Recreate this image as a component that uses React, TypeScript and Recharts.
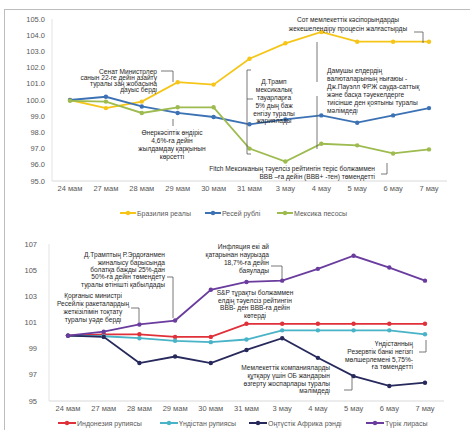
import React from 'react';
import { LineChart, Line, XAxis, YAxis } from 'recharts';

// categories
const dates = ['24 мам', '27 мам', '28 мам', '29 мам', '30 мам', '31 мам', '3 мау', '4 мау', '5 мау', '6 мау', '7 мау'];

// top chart series
const brazilReal = [100.0, 99.5, 99.9, 101.1, 100.95, 102.55, 103.5, 104.2, 103.6, 103.6, 103.6];
const russianRuble = [100.0, 100.2, 99.6, 99.2, 98.95, 98.5, 98.8, 99.05, 98.6, 99.05, 99.5];
const mexicanPeso = [99.95, 99.9, 99.2, 99.55, 99.55, 97.0, 96.2, 97.3, 97.2, 96.7, 96.95];

// bottom chart series
const indonesianRupiah = [100.0, 100.1, 100.1, 99.9, 99.9, 100.9, 100.9, 100.9, 100.9, 100.9, 100.9];
const indianRupee = [100.0, 99.95, 99.8, 99.6, 99.5, 99.7, 100.4, 100.4, 100.4, 100.4, 100.1];
const southAfricanRand = [100.0, 99.9, 97.9, 98.4, 97.9, 98.9, 99.8, 98.3, 96.9, 96.15, 96.4];
const turkishLira = [100.0, 100.3, 100.85, 101.15, 103.5, 104.1, 104.2, 105.1, 106.1, 105.2, 104.2];

// tick labels
const topTicks = [95, 96, 97, 98, 99, 100, 101, 102, 103, 104, 105];
const bottomTicks = [95, 97, 99, 101, 103, 105, 107];

const topSeries = [
  { key: 'brl', name: 'Бразилия реалы', color: '#F5C518', values: brazilReal },
  { key: 'rub', name: 'Ресей рублі', color: '#3C72B4', values: russianRuble },
  { key: 'mxn', name: 'Мексика песосы', color: '#9DBB4F', values: mexicanPeso },
];

const bottomSeries = [
  { key: 'idr', name: 'Индонезия рупиясы', color: '#E0303A', values: indonesianRupiah },
  { key: 'inr', name: 'Үндістан рупиясы', color: '#49B3C8', values: indianRupee },
  { key: 'zar', name: 'Оңтүстік Африка рэнді', color: '#27295C', values: southAfricanRand },
  { key: 'try', name: 'Түрік лирасы', color: '#6A3C9E', values: turkishLira },
];

const buildRows = (series: typeof topSeries) =>
  dates.map((d, i) => {
    const row: Record<string, string | number> = { date: d };
    series.forEach((s) => (row[s.key] = s.values[i]));
    return row;
  });

const topData = buildRows(topSeries);
const bottomData = buildRows(bottomSeries);

const FONT = '"Liberation Sans", Arial, sans-serif';
const tickStyle = { fontSize: 7.5, fill: '#595959', fontFamily: FONT };

function Note({ x, y, lines, anchor = 'middle', step = 7 }: { x: number; y: number; lines: string[]; anchor?: 'start' | 'middle' | 'end'; step?: number }) {
  return (
    <text textAnchor={anchor} fontSize={6.6} fill="#1f1f1f" fontFamily={FONT}>
      {lines.map((l, i) => (
        <tspan key={i} x={x} y={y + i * step + 2.3}>
          {l}
        </tspan>
      ))}
    </text>
  );
}

function LegendItem({ x, y, color, label, w = 16 }: { x: number; y: number; color: string; label: string; w?: number }) {
  return (
    <g>
      <line x1={x} y1={y} x2={x + w} y2={y} stroke={color} strokeWidth={2} />
      <circle cx={x + w / 2} cy={y} r={2.2} fill={color} />
      <text x={x + w + 1} y={y + 2.5} fontSize={7} fill="#595959" fontFamily={FONT}>
        {label}
      </text>
    </g>
  );
}

const conn = { fill: 'none', stroke: '#555', strokeWidth: 0.8 };

export default function App() {
  return (
    <div style={{ position: 'absolute', left: 0, top: 0, width: 470, height: 430, background: '#fff', fontFamily: FONT }}>
      <div style={{ position: 'absolute', left: 4, top: 9, width: 466, height: 421, borderLeft: '1px solid #bdbdbd', borderTop: '1px solid #bdbdbd' }} />

      <div style={{ position: 'absolute', left: 0, top: 0 }}>
        <LineChart width={470} height={220} data={topData} margin={{ top: 19, right: 23, bottom: 19, left: 0 }}>
          <XAxis dataKey="date" height={20} interval={0} tickLine={false} tickSize={0} tickMargin={5} padding={{ left: 18, right: 18 }} axisLine={{ stroke: '#d9d9d9' }} tick={tickStyle} />
          <YAxis width={52} domain={[95, 105]} ticks={topTicks} interval={0} tickFormatter={(v: number) => v.toFixed(1)} tickLine={false} tickSize={0} tickMargin={7} axisLine={{ stroke: '#e3e3e3' }} tick={tickStyle} />
          {topSeries.map((s) => (
            <Line key={s.key} dataKey={s.key} name={s.name} type="linear" stroke={s.color} strokeWidth={1.8} dot={{ r: 2.2, fill: s.color, stroke: s.color, strokeWidth: 0 }} activeDot={false} isAnimationActive={false} />
          ))}
        </LineChart>
      </div>

      <div style={{ position: 'absolute', left: 0, top: 220 }}>
        <LineChart width={470} height={210} data={bottomData} margin={{ top: 24, right: 26, bottom: 9, left: 0 }}>
          <XAxis dataKey="date" height={20} interval={0} tickLine={false} tickSize={0} tickMargin={5} padding={{ left: 19, right: 19 }} axisLine={{ stroke: '#d9d9d9' }} tick={tickStyle} />
          <YAxis width={49} domain={[95, 107]} ticks={bottomTicks} interval={0} tickLine={false} tickSize={0} tickMargin={12} axisLine={{ stroke: '#e3e3e3' }} tick={tickStyle} />
          {bottomSeries.map((s) => (
            <Line key={s.key} dataKey={s.key} name={s.name} type="linear" stroke={s.color} strokeWidth={1.8} dot={{ r: 2.2, fill: s.color, stroke: s.color, strokeWidth: 0 }} activeDot={false} isAnimationActive={false} />
          ))}
        </LineChart>
      </div>

      <svg width={470} height={430} style={{ position: 'absolute', left: 0, top: 0, pointerEvents: 'none' }}>
        {/* top chart notes */}
        <Note x={157} y={72} anchor="end" step={6} lines={['Сенат Министрлер', 'санын 22-ге дейін азайту', 'туралы заң жобасына', 'дауыс берді']} />
        <path d="M161,71 H173 V82" {...conn} />

        <Note x={172} y={133} step={7.8} lines={['Өнеркәсіптік өндіріс', '4,6%-ға дейін', 'жылдамдау қарқынын', 'көрсетті']} />
        <path d="M173,119 V126" {...conn} />

        <Note x={375} y={169} anchor="end" step={8} lines={['Fitch Мексиканың тәуелсіз рейтингін  теріс болжаммен', 'BBB –ға дейін (BBB+ -тен) төмендетті']} />
        <path d="M381,174 H387 V163" {...conn} />

        <Note x={274} y={82} step={7.8} lines={['Д.Трамп', 'мексикалық', 'тауарларға', '5% дың баж', 'енгізу туралы', 'жариялады']} />
        <path d="M251,70 H247 V154 H251 M247,99 H253" {...conn} />

        <Note x={348} y={20} step={9} lines={['Сот мемлекеттік кәсіпорындарды', 'жекешелендіру процесін жалғастырды']} />
        <path d="M414,32 H423 V43" {...conn} />

        <Note x={327} y={71} anchor="start" step={8} lines={['Дамушы елдердің', 'валюталарының нығаюы -', 'Дж.Пауэлл ФРЖ сауда-саттық', 'және басқа тәуекелдерге', 'тиісінше ден қоятыны туралы', 'мәлімдеді']} />
        <path d="M317,42 V82 M317,96 V149" {...conn} />

        <LegendItem x={120} y={213} color="#F5C518" label="Бразилия реалы" />
        <LegendItem x={205} y={213} color="#3C72B4" label="Ресей рублі" />
        <LegendItem x={277} y={213} color="#9DBB4F" label="Мексика песосы" />

        {/* bottom chart notes */}
        <Note x={165} y={255} anchor="end" step={7.3} lines={['Д.Трамптың Р.Эрдоғанмен', 'жиналысу барысында', 'болатқа бажды 25%-дан', '50%-ға дейін төмендету', 'туралы өтінішті қабылдады']} />
        <path d="M167,277 H173 V318" {...conn} />

        <Note x={93} y={296} step={7.8} lines={['Қорғаныс министрі', 'Ресейлік ракеталардың', 'жеткізілімін тоқтату', 'туралы уәде берді']} />
        <path d="M131,308 H139 V322" {...conn} />

        <Note x={269} y={247} anchor="end" step={7.8} lines={['Инфляция екі ай', 'қатарынан наурызда', '18,7%-ға дейін', 'баяулады']} />
        <path d="M271,266 H282 V279" {...conn} />

        <Note x={255} y={293} step={7.4} lines={['S&P тұрақты болжаммен', 'елдің тәуелсіз рейтингін', 'BBB- ден BBB-ға дейін', 'көтерді']} />

        <Note x={330} y={368} anchor="end" step={7.6} lines={['Мемлекеттік компанияларды', 'құтқару үшін ОБ жандарын', 'өзгерту жоспарлары туралы', 'мәлімдеді']} />
        <path d="M344,390 H352 V377" {...conn} />

        <Note x={413} y={344} anchor="end" step={7.6} lines={['Үндістанның', 'Резервтік банкі негізгі', 'мөлшерлемені 5,75%-', 'ға төмендетті']} />
        <path d="M419,352 H426 V340" {...conn} />

        <LegendItem x={58} y={423} color="#E0303A" label="Индонезия рупиясы" w={18} />
        <LegendItem x={160} y={423} color="#49B3C8" label="Үндістан рупиясы" w={18} />
        <LegendItem x={249} y={423} color="#27295C" label="Оңтүстік Африка рэнді" w={18} />
        <LegendItem x={366} y={423} color="#6A3C9E" label="Түрік лирасы" w={18} />
      </svg>
    </div>
  );
}
